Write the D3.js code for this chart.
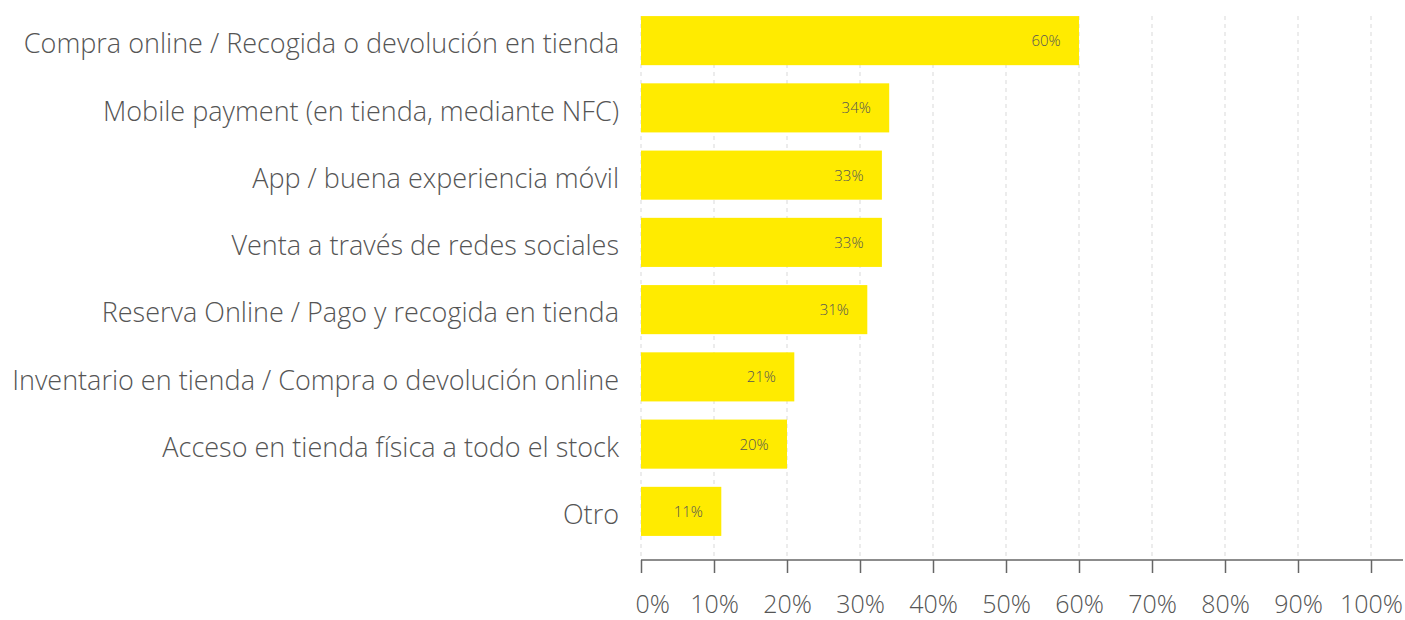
<!DOCTYPE html>
<html>
<head>
<meta charset="utf-8">
<script src="https://cdn.jsdelivr.net/npm/d3@7"></script>
<style>
  body { margin: 0; background: #fff; }
  svg { display: block; font-family: "Open Sans", sans-serif; }
</style>
</head>
<body>
<svg id="svg" width="1405" height="620"></svg>
<script>
// data
const categories = [
  "Compra online / Recogida o devolución en tienda",
  "Mobile payment (en tienda, mediante NFC)",
  "App / buena experiencia móvil",
  "Venta a través de redes sociales",
  "Reserva Online / Pago y recogida en tienda",
  "Inventario en tienda / Compra o devolución online",
  "Acceso en tienda física a todo el stock",
  "Otro"
];
const values = [60, 34, 33, 33, 31, 21, 20, 11];
const tickValues = [0, 10, 20, 30, 40, 50, 60, 70, 80, 90, 100];

const BAR_COLOR = "#FFEB00";
const TEXT_COLOR = "#555555";
const AXIS_Y = 560;
const GRID_TOP = 16;

const svg = d3.select("#svg");

const x = d3.scaleLinear().domain([0, 100]).range([641, 1371]);
const y = d3.scaleBand().domain(categories).range([7, 545]).paddingInner(0.27).paddingOuter(0.135);

// dashed grid
svg.append("g")
  .selectAll("line")
  .data(tickValues)
  .enter().append("line")
  .attr("x1", d => x(d)).attr("x2", d => x(d))
  .attr("y1", GRID_TOP).attr("y2", AXIS_Y)
  .attr("stroke", "#d9d9d9")
  .attr("stroke-width", 1)
  .attr("stroke-dasharray", "4,4");

// bars
svg.append("g")
  .selectAll("rect")
  .data(values)
  .enter().append("rect")
  .attr("x", x(0))
  .attr("y", (d, i) => y(categories[i]))
  .attr("width", d => x(d) - x(0))
  .attr("height", y.bandwidth())
  .attr("fill", BAR_COLOR);

// value labels
svg.append("g")
  .selectAll("text")
  .data(values)
  .enter().append("text")
  .attr("x", d => x(d) - 33)
  .attr("y", (d, i) => y(categories[i]) + y.bandwidth() / 2)
  .attr("dy", "0.36em")
  .attr("text-anchor", "middle")
  .attr("font-size", 15)
  .attr("font-weight", 300)
  .attr("fill", TEXT_COLOR)
  .text(d => d + "%");

// category labels
svg.append("g")
  .selectAll("text")
  .data(categories)
  .enter().append("text")
  .attr("x", 619)
  .attr("y", d => y(d) + y.bandwidth() / 2 + 3)
  .attr("dy", "0.36em")
  .attr("text-anchor", "end")
  .attr("font-size", 27)
  .attr("font-weight", 300)
  .attr("fill", TEXT_COLOR)
  .text(d => d);

// x axis
const axis = d3.axisBottom(x)
  .tickValues(tickValues)
  .tickFormat(d => d + "%")
  .tickSize(13)
  .tickPadding(22);

const gx = svg.append("g")
  .attr("transform", "translate(0," + AXIS_Y + ")")
  .call(axis);
gx.select(".domain").remove();
gx.append("line")
  .attr("x1", x(0)).attr("x2", 1403)
  .attr("y1", 0).attr("y2", 0)
  .attr("stroke", "#666")
  .attr("stroke-width", 1.5);
gx.selectAll(".tick line").attr("stroke", "#666").attr("stroke-width", 1.5);
gx.selectAll(".tick text")
  .attr("font-family", "Open Sans, sans-serif")
  .attr("font-size", 25)
  .attr("font-weight", 300)
  .attr("fill", TEXT_COLOR);
// first label sits inside the plot edge
gx.selectAll(".tick text").filter(d => d === 0)
  .attr("text-anchor", "start")
  .attr("x", -6);
</script>
</body>
</html>
